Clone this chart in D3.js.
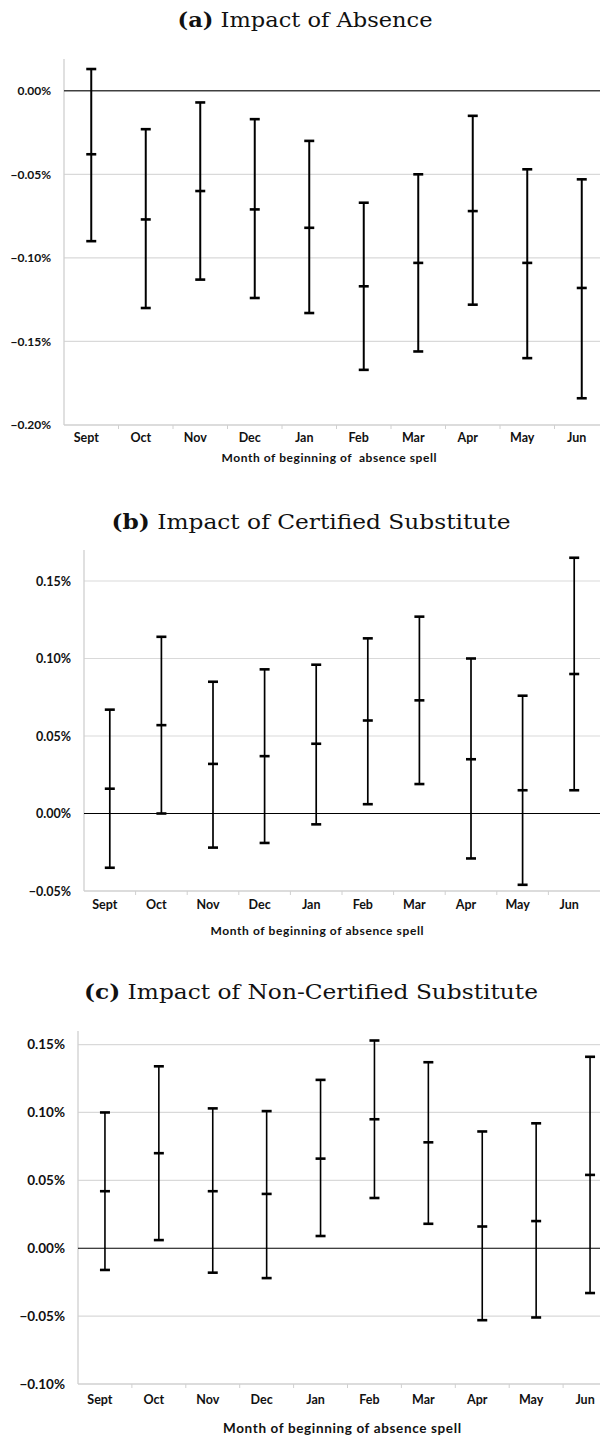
<!DOCTYPE html>
<html>
<head>
<meta charset="utf-8">
<script src="https://cdn.jsdelivr.net/npm/d3@7"></script>
<style>
  html, body { margin: 0; padding: 0; background: #fff; }
  svg { display: block; }
</style>
</head>
<body>
<svg id="chart" width="600" height="1437"></svg>
<script>
// ---------- DATA ----------
const months = ["Sept", "Oct", "Nov", "Dec", "Jan", "Feb", "Mar", "Apr", "May", "Jun"];

// (a) Impact of Absence (percent)
const absenceEst  = [-0.038, -0.077, -0.060, -0.071, -0.082, -0.117, -0.103, -0.072, -0.103, -0.118];
const absenceLow  = [-0.090, -0.130, -0.113, -0.124, -0.133, -0.167, -0.156, -0.128, -0.160, -0.184];
const absenceHigh = [ 0.013, -0.023, -0.007, -0.017, -0.030, -0.067, -0.050, -0.015, -0.047, -0.053];
const absenceTicks = [0, -0.05, -0.10, -0.15, -0.20];

// (b) Impact of Certified Substitute (percent)
const certEst  = [0.016, 0.057, 0.032, 0.037, 0.045, 0.060, 0.073, 0.035, 0.015, 0.090];
const certLow  = [-0.035, 0.000, -0.022, -0.019, -0.007, 0.006, 0.019, -0.029, -0.046, 0.015];
const certHigh = [0.067, 0.114, 0.085, 0.093, 0.096, 0.113, 0.127, 0.100, 0.076, 0.165];
const certTicks = [0.15, 0.10, 0.05, 0, -0.05];

// (c) Impact of Non-Certified Substitute (percent)
const nonCertEst  = [0.042, 0.070, 0.042, 0.040, 0.066, 0.095, 0.078, 0.016, 0.020, 0.054];
const nonCertLow  = [-0.016, 0.006, -0.018, -0.022, 0.009, 0.037, 0.018, -0.053, -0.051, -0.033];
const nonCertHigh = [0.100, 0.134, 0.103, 0.101, 0.124, 0.153, 0.137, 0.086, 0.092, 0.141];
const nonCertTicks = [0.15, 0.10, 0.05, 0, -0.05, -0.10];

const titles = [
  { tag: "(a)", text: " Impact of Absence" },
  { tag: "(b)", text: " Impact of Certified Substitute" },
  { tag: "(c)", text: " Impact of Non-Certified Substitute" }
];
const xTitles = [
  "Month of beginning of \u00a0absence spell",
  "Month of beginning of absence spell",
  "Month of beginning of absence spell"
];

// ---------- LAYOUT ----------
const svg = d3.select("#chart");
const sans = "Lato, 'Open Sans', sans-serif";
const serif = "'DejaVu Serif', 'Liberation Serif', serif";

const panels = [
  { est: absenceEst, low: absenceLow, high: absenceHigh, ticks: absenceTicks,
    domain: [-0.20, 0.019], top: 59, bottom: 425, left: 64, right: 609,
    titleY: 27, titleX: 305, titleW: 255, labY: 442, xTitleY: 462, xTitleX: 329, xTitleW: 215,
    xTitleSize: 12, tickSize: 12, labSize: 12.5, barW: 2, zeroColor: "#404040", zeroW: 1.3 },
  { est: certEst, low: certLow, high: certHigh, ticks: certTicks,
    domain: [-0.05, 0.17], top: 550, bottom: 891, left: 84, right: 600,
    titleY: 529, titleX: 311, titleW: 399, labY: 909, xTitleY: 935, xTitleX: 317, xTitleW: 213,
    xTitleSize: 12, tickSize: 12.5, labSize: 12.5, barW: 1.7, zeroColor: "#000", zeroW: 1.1 },
  { est: nonCertEst, low: nonCertLow, high: nonCertHigh, ticks: nonCertTicks,
    domain: [-0.10, 0.16], top: 1031, bottom: 1384, left: 78, right: 617,
    titleY: 999, titleX: 311, titleW: 454, labY: 1404, xTitleY: 1433, xTitleX: 342, xTitleW: 238,
    xTitleSize: 13.5, tickSize: 13.5, labSize: 12.5, barW: 1.6, zeroColor: "#000", zeroW: 1.1 }
];

panels.forEach((p, i) => {
  const g = svg.append("g");
  const x = d3.scaleBand().domain(months).range([p.left, p.right]).padding(0);
  const y = d3.scaleLinear().domain(p.domain).range([p.bottom, p.top]);

  // title
  const t = g.append("text")
    .attr("x", p.titleX - p.titleW / 2).attr("y", p.titleY)
    .attr("textLength", p.titleW).attr("lengthAdjust", "spacingAndGlyphs")
    .attr("font-family", serif).attr("font-size", 19.5).attr("fill", "#111");
  t.append("tspan").attr("font-weight", "bold").text(titles[i].tag);
  t.append("tspan").text(titles[i].text);

  // gridlines
  g.append("g").selectAll("line")
    .data(p.ticks.filter(d => d !== 0 && d !== p.domain[0]))
    .join("line")
    .attr("x1", p.left).attr("x2", 600)
    .attr("y1", d => y(d)).attr("y2", d => y(d))
    .attr("stroke", "#d9d9d9").attr("stroke-width", 1.2);

  // y axis
  const yAxis = d3.axisLeft(y).tickValues(p.ticks)
    .tickFormat(d => d3.format(".2f")(d) + "%").tickSize(0).tickPadding(13);
  const ya = g.append("g").attr("transform", `translate(${p.left},0)`).call(yAxis);
  ya.select(".domain").attr("stroke", "#d0d0d0").attr("stroke-width", 1.3)
    .attr("d", `M0,${p.top}V${p.bottom}`);
  ya.selectAll("text").attr("font-family", sans).attr("font-weight", "bold")
    .attr("font-size", p.tickSize).attr("fill", "#111");

  // x axis baseline with band boundary ticks
  const xa = g.append("g").attr("transform", `translate(0,${p.bottom})`);
  xa.append("line").attr("x1", p.left).attr("x2", 600).attr("y1", 0).attr("y2", 0)
    .attr("stroke", "#d0d0d0").attr("stroke-width", 1.3);
  xa.selectAll("line.tk").data(months.slice(1)).join("line").attr("class", "tk")
    .attr("x1", d => x(d)).attr("x2", d => x(d)).attr("y1", 0).attr("y2", 4)
    .attr("stroke", "#d0d0d0").attr("stroke-width", 1);
  xa.selectAll("text").data(months).join("text")
    .attr("x", d => x(d) + x.bandwidth() / 2 - 5)
    .attr("y", p.labY - p.bottom)
    .attr("text-anchor", "middle")
    .attr("font-family", sans).attr("font-weight", "bold")
    .attr("font-size", p.labSize).attr("fill", "#111")
    .text(d => d);

  // zero line
  g.append("line").attr("x1", p.left).attr("x2", 600)
    .attr("y1", y(0)).attr("y2", y(0))
    .attr("stroke", p.zeroColor).attr("stroke-width", p.zeroW);

  // x axis title
  g.append("text").attr("x", p.xTitleX - p.xTitleW / 2).attr("y", p.xTitleY)
    .attr("textLength", p.xTitleW).attr("lengthAdjust", "spacing")
    .attr("font-family", sans).attr("font-weight", "bold")
    .attr("font-size", p.xTitleSize).attr("fill", "#111")
    .text(xTitles[i]);

  // error bars
  const rows = months.map((m, k) => ({ m, est: p.est[k], low: p.low[k], high: p.high[k] }));
  const cx = d => x(d.m) + x.bandwidth() / 2;
  const bars = g.append("g").selectAll("g").data(rows).join("g");
  bars.append("line")
    .attr("x1", cx).attr("x2", cx)
    .attr("y1", d => y(d.low)).attr("y2", d => y(d.high))
    .attr("stroke", "#000").attr("stroke-width", p.barW);
  ["low", "est", "high"].forEach(key => {
    bars.append("line")
      .attr("x1", d => cx(d) - 5).attr("x2", d => cx(d) + 5)
      .attr("y1", d => y(d[key])).attr("y2", d => y(d[key]))
      .attr("stroke", "#000").attr("stroke-width", 2.6);
  });
});
</script>
</body>
</html>
